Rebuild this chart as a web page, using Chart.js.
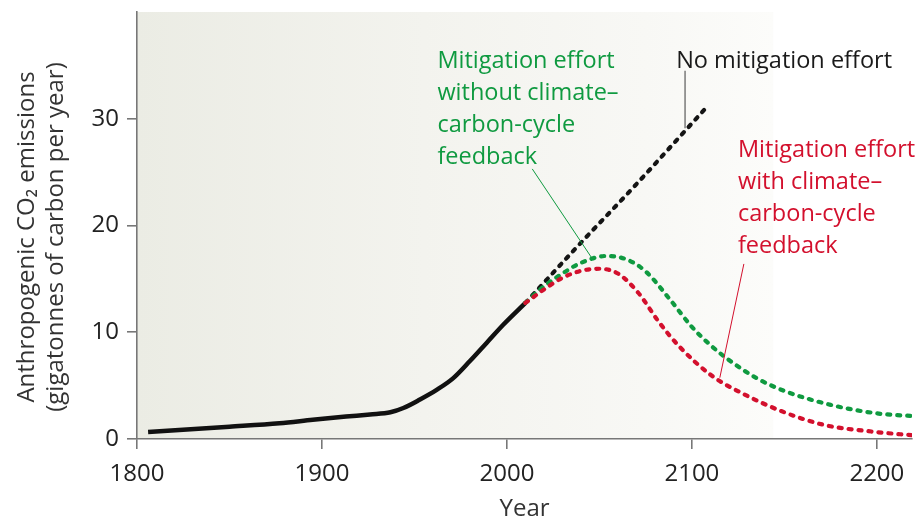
<!DOCTYPE html>
<html>
<head>
<meta charset="utf-8">
<script src="https://cdn.jsdelivr.net/npm/chart.js@4/dist/chart.umd.min.js"></script>
<style>
    body { margin: 0; background: #fff; }
    #chart { display: block; }
</style>
</head>
<body>
<canvas id="chart" width="923" height="521"></canvas>
<script>
// ================================================================== Data
let histYears = [1806, 1850, 1877, 1895, 1913, 1926, 1937, 1944, 1953, 1962, 1971, 1980, 1989, 1998, 2010];
let histValues = [0.65, 1.15, 1.48, 1.8, 2.1, 2.3, 2.5, 2.9, 3.7, 4.6, 5.7, 7.3, 9.0, 10.7, 12.75];

let noMitYears = [2010, 2039, 2068, 2107];
let noMitValues = [12.75, 18.2, 23.5, 30.9];

let withoutFbYears = [2010, 2020, 2030, 2040, 2054, 2065, 2075, 2088, 2100, 2110, 2120, 2135, 2150, 2175, 2200, 2219];
let withoutFbValues = [12.75, 14.3, 15.5, 16.5, 17.15, 16.8, 15.7, 13.1, 10.5, 8.8, 7.4, 5.7, 4.5, 3.2, 2.4, 2.15];

let withFbYears = [2010, 2020, 2030, 2040, 2050, 2060, 2071, 2082, 2093, 2111, 2127, 2150, 2172, 2197, 2219];
let withFbValues = [12.75, 14.0, 15.1, 15.75, 15.95, 15.5, 13.7, 11.0, 8.7, 5.9, 4.3, 2.5, 1.3, 0.7, 0.35];

let xTicks = [1800, 1900, 2000, 2100, 2200];
let yTicks = [0, 10, 20, 30];
let yTitleLines = ['Anthropogenic CO\u2082 emissions', '(gigatonnes of carbon per year)'];

const GREEN = '#0f9a40';
const RED = '#d3102d';
const FONT = '"Open Sans", Lato, sans-serif';

function toPoints(years, values) {
    return years.map((yr, i) => ({ x: yr, y: values[i] }));
}

// ================================================================== Plugins
const backgroundPlugin = {
    id: 'plotBackground',
    beforeDraw(chart) {
        let ctx = chart.ctx;
        let area = chart.chartArea;
        let fadeEnd = chart.scales.x.getPixelForValue(2144);
        let grad = ctx.createLinearGradient(area.left, 0, fadeEnd, 0);
        grad.addColorStop(0, '#ebece4');
        grad.addColorStop(0.45, '#f3f3ee');
        grad.addColorStop(0.8, '#f8f8f5');
        grad.addColorStop(1, '#fcfcfa');
        ctx.save();
        ctx.fillStyle = grad;
        ctx.fillRect(area.left, area.top, fadeEnd - area.left, area.bottom - area.top);
        ctx.restore();
    }
};

function drawLeader(chart, x1, y1, x2, y2, color, width) {
    let ctx = chart.ctx;
    let sx = chart.scales.x;
    let sy = chart.scales.y;
    ctx.save();
    ctx.strokeStyle = color;
    ctx.lineWidth = width;
    ctx.beginPath();
    ctx.moveTo(sx.getPixelForValue(x1), sy.getPixelForValue(y1));
    ctx.lineTo(sx.getPixelForValue(x2), sy.getPixelForValue(y2));
    ctx.stroke();
    ctx.restore();
}

function drawLabel(chart, lines, xVal, yVal, color) {
    let ctx = chart.ctx;
    let x = chart.scales.x.getPixelForValue(xVal);
    let y = chart.scales.y.getPixelForValue(yVal);
    ctx.save();
    ctx.fillStyle = color;
    ctx.font = '23.5px ' + FONT;
    ctx.textAlign = 'left';
    ctx.textBaseline = 'alphabetic';
    lines.forEach((line, i) => ctx.fillText(line, x, y + i * 32));
    ctx.restore();
}

// y title drawn by hand, it sits a bit below the centre of the axis
function drawYTitle(chart) {
    let ctx = chart.ctx;
    ctx.save();
    ctx.translate(27, 237);
    ctx.rotate(-Math.PI / 2);
    ctx.fillStyle = '#333';
    ctx.font = '24px ' + FONT;
    ctx.textAlign = 'center';
    ctx.textBaseline = 'middle';
    yTitleLines.forEach((line, i) => ctx.fillText(line, 0, i * 29));
    ctx.restore();
}

const annotationPlugin = {
    id: 'annotations',
    afterDatasetsDraw(chart) {
        drawLeader(chart, 2096.3, 34.5, 2096.3, 29.1, '#666', 1.3);
        drawLeader(chart, 2013.7, 25.3, 2046.1, 16.9, GREEN, 1);
        drawLeader(chart, 2128.1, 16.4, 2115.1, 5.74, RED, 1);

        drawLabel(chart, ['Mitigation effort', 'without climate\u2013', 'carbon-cycle', 'feedback'], 1962.4, 34.8, GREEN);
        drawLabel(chart, ['No mitigation effort'], 2091.5, 34.8, '#1a1a1a');
        drawLabel(chart, ['Mitigation effort', 'with climate\u2013', 'carbon-cycle', 'feedback'], 2124.9, 26.45, RED);

        drawYTitle(chart);
    }
};

// ================================================================== Chart
function dashed(label, years, values, color) {
    return {
        label: label,
        data: toPoints(years, values),
        borderColor: color,
        borderWidth: 4.2,
        borderDash: [3, 7],
        borderCapStyle: 'round',
        cubicInterpolationMode: 'monotone',
        pointRadius: 0,
        fill: false
    };
}

function renderChart() {
    let ctx = document.getElementById('chart');
    new Chart(ctx, {
        type: 'line',
        data: {
            datasets: [
                dashed('Mitigation effort with climate-carbon-cycle feedback', withFbYears, withFbValues, RED),
                dashed('Mitigation effort without climate-carbon-cycle feedback', withoutFbYears, withoutFbValues, GREEN),
                dashed('No mitigation effort', noMitYears, noMitValues, '#141414'),
                {
                    label: 'Historical',
                    data: toPoints(histYears, histValues),
                    borderColor: '#111',
                    borderWidth: 4.5,
                    cubicInterpolationMode: 'monotone',
                    pointRadius: 0,
                    fill: false
                }
            ]
        },
        options: {
            responsive: false,
            animation: false,
            devicePixelRatio: 1,
            layout: { padding: { top: 12, right: 11, left: 0, bottom: 0 } },
            plugins: {
                legend: { display: false },
                tooltip: { enabled: false }
            },
            scales: {
                x: {
                    type: 'linear',
                    min: 1800,
                    max: 2219,
                    afterBuildTicks: (scale) => { scale.ticks = xTicks.map(v => ({ value: v })); },
                    afterFit: (scale) => { scale.height = 82; },
                    border: { color: '#777', width: 1.6 },
                    grid: { drawOnChartArea: false, color: '#777', lineWidth: 1.6, tickLength: 10 },
                    ticks: { color: '#222', font: { family: FONT, size: 24 }, padding: 11, maxRotation: 0, callback: (v) => String(v) },
                    title: { display: true, text: 'Year', color: '#333', font: { family: FONT, size: 24 }, padding: { top: 2, bottom: -3 } }
                },
                y: {
                    min: 0,
                    max: 40,
                    afterBuildTicks: (scale) => { scale.ticks = yTicks.map(v => ({ value: v })); },
                    afterFit: (scale) => { scale.width = 137; scale.paddingTop = 0; },
                    border: { color: '#777', width: 1.6 },
                    grid: { drawOnChartArea: false, color: '#777', lineWidth: 1.6, tickLength: 10 },
                    ticks: { color: '#222', font: { family: FONT, size: 24 }, padding: 8, callback: (v) => String(v) },
                    title: { display: false }
                }
            }
        },
        plugins: [backgroundPlugin, annotationPlugin]
    });
}

renderChart();
</script>
</body>
</html>
